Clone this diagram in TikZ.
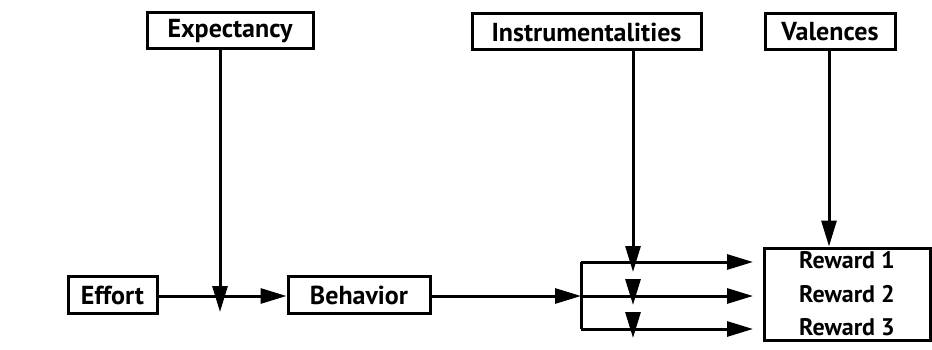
\documentclass[tikz,border=0pt]{standalone}
\usepackage{fontspec}
\setmainfont{PT Sans}
\usetikzlibrary{arrows.meta}
\begin{document}
\begin{tikzpicture}[x=1pt,y=-1pt,
  box/.style={draw,line width=3pt,inner sep=0pt,font=\bfseries\fontsize{26}{30}\selectfont},
  flow/.style={line width=3pt,-{Triangle[length=26pt,width=15pt]}},
  wire/.style={line width=3pt}]
\useasboundingbox[fill=white] (0,0) rectangle (932,350);
% variables on top
\node[box,minimum width=166pt,minimum height=36pt] (expect) at (230,31) {Expectancy};
\node[box,minimum width=229pt,minimum height=36pt] (instr) at (586.5,32) {Instrumentalities};
\node[box,minimum width=130pt,minimum height=36pt] (val) at (830,32) {Valences};
% the chain along the bottom
\node[box,minimum width=89pt,minimum height=37pt] (effort) at (112.5,295) {Effort};
\node[box,minimum width=142pt,minimum height=37pt] (behav) at (359,295) {Behavior};
\node[box,minimum width=166pt,minimum height=92pt,align=center,
      font=\bfseries\fontsize{24}{33.5}\selectfont] (reward) at (847,294)
      {Reward 1\\Reward 2\\Reward 3};
% junction points
\coordinate (ex) at (220,296);
\coordinate (extip) at (220,312);
\coordinate (bartop) at (581,262);
\coordinate (barmid) at (581,296);
\coordinate (barbot) at (581,329);
\coordinate (ix) at (633,262);
% connectors
\draw[flow] (effort.east |- ex) -- (behav.west |- ex);
\draw[flow] (expect.south -| ex) -- (extip);
\draw[flow] (behav.east |- barmid) -- (barmid);
\draw[wire] (bartop) -- (barbot);
\draw[flow] (bartop) -- (753,262);
\draw[flow] (barmid) -- (753,296);
\draw[flow] (barbot) -- (753,329);
\draw[flow] (instr.south -| ix) -- (633,272);
\draw[flow] (633,280) -- (633,305);
\draw[flow] (633,313) -- (633,338);
\draw[flow] (val.south -| 829,0) -- (reward.north -| 829,0);
\end{tikzpicture}
\end{document}
